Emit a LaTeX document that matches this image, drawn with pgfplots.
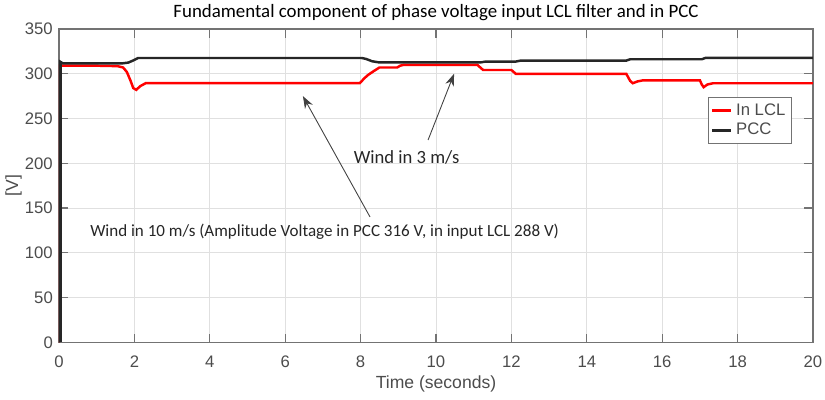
\documentclass[border=0pt]{standalone}
\usepackage{pgfplots}
\pgfplotsset{compat=1.18}
\usepackage{fontspec}
\setmainfont{Carlito}
\newfontfamily\arial{Liberation Sans}
\usetikzlibrary{arrows.meta}
\definecolor{axgray}{rgb}{0.45,0.45,0.45}
\definecolor{lblgray}{rgb}{0.3,0.3,0.3}
\definecolor{gridgray}{rgb}{0.88,0.88,0.88}
\begin{document}
\begin{tikzpicture}[x=1cm,y=1cm]
\begin{axis}[
  scale only axis,
  width=15.08cm, height=6.266cm,
  xmin=0, xmax=20, ymin=0, ymax=350,
  xtick={0,2,...,20}, ytick={0,50,...,350},
  grid=major,
  major grid style={gridgray, line width=0.4pt},
  axis line style={axgray, line width=0.6pt},
  tick style={axgray, line width=0.6pt},
  tick align=inside,
  major tick length=5pt,
  /pgf/number format/assume math mode=true,
  tick label style={font=\arial\fontsize{9.5}{11}\selectfont, text=lblgray},
  xticklabel style={yshift=-4pt},
  xlabel={Time (seconds)},
  ylabel={[V]},
  xlabel style={font=\arial\fontsize{10}{12}\selectfont, text=lblgray, yshift=2pt},
  ylabel style={font=\arial\fontsize{10}{12}\selectfont, text=lblgray, yshift=-5pt},
  title={Fundamental component of phase voltage input LCL filter and in PCC},
  title style={font=\fontsize{10.75}{12}\selectfont, text=black, yshift=-5pt},
  legend style={at={(0.972,0.783)}, anchor=north east, draw=axgray,
    font=\arial\fontsize{9.5}{11}\selectfont, text=lblgray,
    inner sep=1.5pt, row sep=-1pt},
  legend cell align=left,
  legend image code/.code={\draw[#1, line width=1.6pt] (0cm,0cm) -- (0.38cm,0cm);},
]
\addplot[red, line width=1.4pt] coordinates {
(0,0) (0.01,309) (0.3,309) (1.0,309) (1.55,308.5) (1.7,307) (1.8,302)
(1.9,292) (1.97,284) (2.05,282) (2.15,286) (2.3,289.5) (2.6,289.5)
(5,289.5) (7.98,289.5) (8.1,295) (8.2,298.7) (8.35,303) (8.5,307)
(8.97,307) (9.05,309) (9.13,309.8) (10,309.8) (11.1,309.8) (11.25,304.2)
(12.0,304.2) (12.12,299.8) (15.05,299.8) (15.15,292) (15.22,289.4)
(15.35,291.5) (15.5,292.7) (17.0,292.7) (17.05,288) (17.1,285)
(17.2,288) (17.35,289.4) (20,289.4)
};
\addlegendentry{In LCL}
\addplot[black!85, line width=1.4pt] coordinates {
(0,0) (0.01,314) (0.1,311.7) (1.0,311.7) (1.7,311.7) (1.84,312.5)
(1.95,314.5) (2.1,317.6) (2.3,317.6) (5,317.6) (8.03,317.6) (8.15,316.5)
(8.3,314) (8.5,312.6) (9,312.6) (11.2,312.8) (11.3,313.5) (12.1,313.5)
(12.25,314.7) (15.05,314.7) (15.15,316.2) (17.05,316.2) (17.15,317.7)
(20,317.7)
};
\addlegendentry{PCC}
\addplot[black!85, line width=1.6pt, forget plot] coordinates {(0.04,0) (0.04,314)};
\draw[black!75, line width=0.5pt, -{Stealth[length=7pt,width=5pt]}]
  (axis cs:8.25,140) -- (axis cs:6.47,275);
\draw[black!75, line width=0.5pt, -{Stealth[length=7pt,width=5pt]}]
  (axis cs:9.79,226) -- (axis cs:10.48,300);
\node[font=\fontsize{10.6}{12}\selectfont, text=black!85] at (axis cs:9.22,206) {Wind in 3 m/s};
\node[font=\fontsize{9.7}{12}\selectfont, text=black!85, anchor=west, inner sep=0pt] at (axis cs:0.82,123) {Wind in 10 m/s (Amplitude Voltage in PCC 316 V, in input LCL 288 V)};
\end{axis}
\pgfresetboundingbox
\path[use as bounding box] ([shift={(-1.18cm,-1.154cm)}]current axis.south west) rectangle ++(16.5cm,8cm);
\end{tikzpicture}
\end{document}
